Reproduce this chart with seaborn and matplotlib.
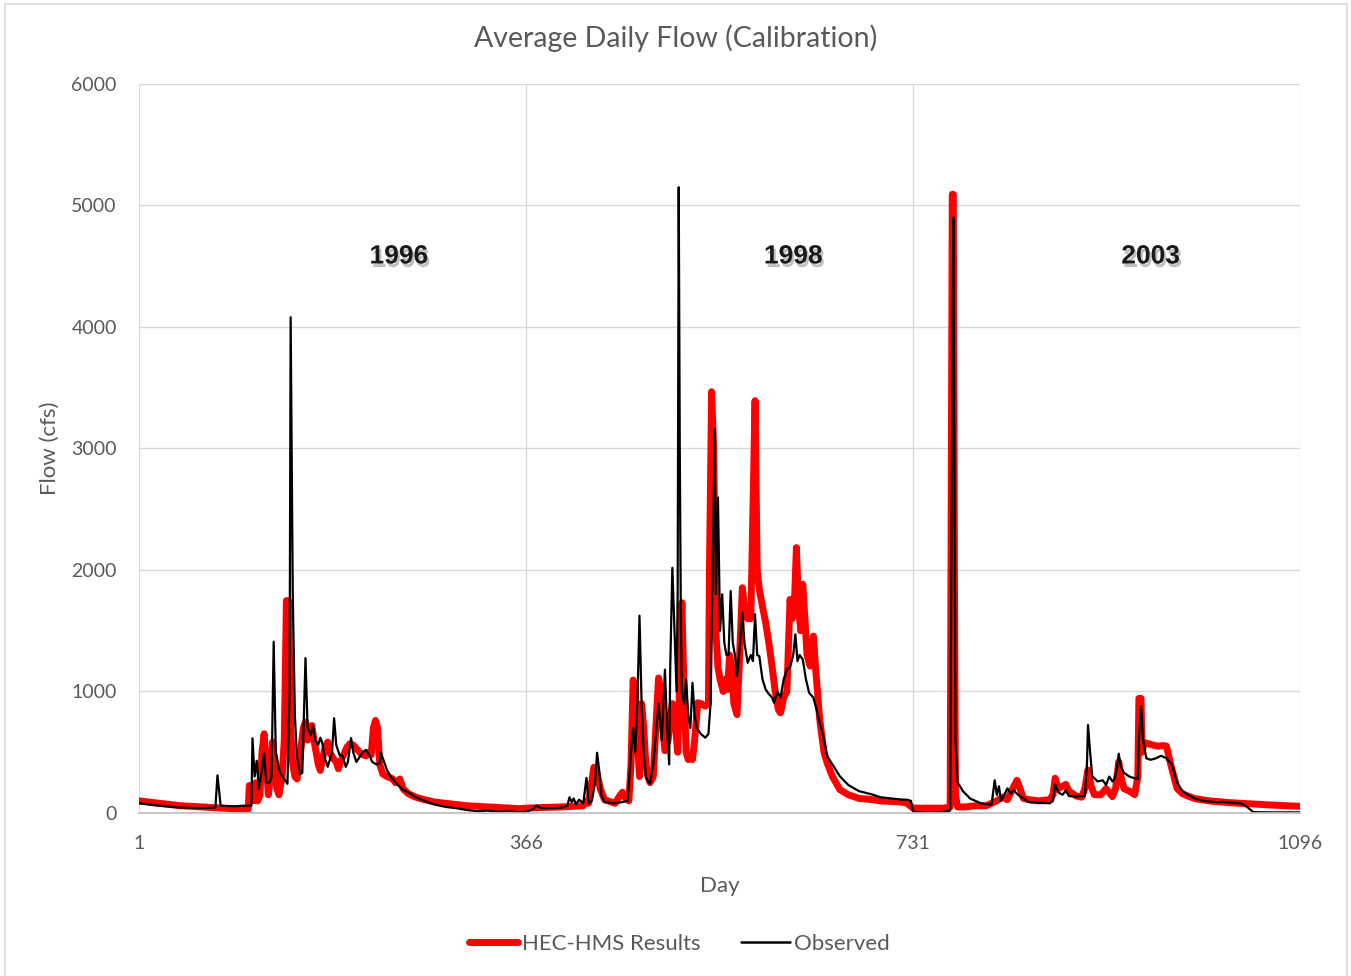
import matplotlib
matplotlib.use("Agg")
import matplotlib.pyplot as plt
import matplotlib.patheffects as pe
from matplotlib.lines import Line2D
from matplotlib.patches import Rectangle
import pandas as pd
import seaborn as sns

# observed flow, breakpoints (day, cfs)
obs_day = [1, 20, 40, 60, 73, 75, 78, 90, 100, 107, 108, 110, 112, 114, 117, 119, 121, 124, 126, 128,
           130, 134, 138, 141, 143, 144, 146, 148, 150, 153, 155, 158, 160, 163, 165, 167, 170, 172, 174, 176,
           179, 181, 183, 185, 187, 190, 193, 196, 198, 201, 203, 206, 209, 212, 215, 218, 221, 225, 228, 229,
           231, 235, 240, 245, 250, 255, 262, 270, 280, 290, 300, 310, 320, 330, 340, 350, 360, 366, 372, 376,
           380, 390, 400, 405, 407, 409, 411, 413, 416, 420, 423, 425, 428, 431, 433, 435, 437, 440, 450, 457,
           462, 465, 467, 469, 471, 473, 475, 477, 479, 481, 483, 486, 489, 491, 494, 497, 499, 501, 502, 504,
           506, 508, 509, 510, 511, 512, 513, 515, 517, 519, 521, 523, 525, 527, 531, 535, 538, 540, 542, 544,
           545, 547, 549, 551, 553, 555, 557, 559, 561, 563, 565, 567, 570, 572, 575, 578, 580, 582, 584, 586,
           589, 592, 595, 598, 600, 603, 606, 609, 612, 615, 618, 620, 622, 624, 627, 630, 633, 637, 640, 643,
           646, 650, 655, 662, 670, 680, 693, 700, 710, 720, 725, 729, 731, 740, 750, 760, 766, 768, 769, 770,
           771, 773, 778, 785, 795, 805, 808, 810, 812, 814, 817, 820, 823, 826, 830, 835, 840, 850, 860, 863,
           865, 868, 872, 875, 878, 885, 893, 895, 896, 898, 900, 905, 910, 913, 916, 919, 921, 923, 925, 927,
           930, 935, 940, 943, 944, 946, 948, 951, 955, 960, 965, 970, 975, 980, 985, 990, 997, 1005, 1015, 1025,
           1033, 1040, 1046, 1052, 1070, 1096]
obs_flow = [80, 60, 45, 40, 45, 310, 60, 55, 60, 60, 615, 300, 430, 200, 350, 490, 250, 250, 300, 1410,
            500, 330, 280, 240, 1000, 4080, 1800, 800, 460, 320, 330, 1275, 700, 640, 720, 600, 560, 620, 570, 460,
            380, 440, 500, 780, 560, 480, 470, 380, 420, 617, 500, 420, 460, 500, 520, 480, 420, 400, 410, 500,
            450, 350, 280, 230, 190, 170, 130, 100, 70, 50, 40, 25, 15, 20, 10, 15, 5, 10, 30, 60,
            40, 40, 45, 60, 130, 90, 120, 70, 110, 80, 290, 80, 100, 240, 496, 350, 150, 90, 80, 90,
            100, 500, 700, 500, 900, 1624, 900, 500, 300, 260, 240, 400, 700, 900, 600, 1180, 700, 400, 1200, 2018,
            1500, 1000, 1800, 5150, 3000, 1600, 1000, 900, 1100, 800, 700, 1071, 800, 700, 650, 620, 650, 900, 2000, 3159,
            1800, 2596, 1500, 1800, 1400, 1300, 1300, 1827, 1400, 1300, 1126, 1300, 1648, 1400, 1236, 1300, 1250, 1635, 1300, 1291,
            1100, 1016, 980, 950, 907, 1000, 950, 1100, 1181, 1200, 1300, 1470, 1250, 1300, 1264, 1100, 989, 950, 850, 742,
            650, 467, 400, 302, 230, 180, 151, 130, 120, 110, 110, 100, 10, 5, 5, 10, 20, 3500, 4899, 3000,
            600, 253, 180, 118, 80, 67, 269, 150, 220, 100, 150, 202, 160, 185, 150, 120, 90, 84, 80, 100,
            235, 170, 150, 185, 140, 135, 140, 400, 724, 500, 303, 260, 269, 230, 300, 260, 280, 350, 488, 380,
            330, 300, 286, 280, 600, 875, 600, 450, 438, 450, 471, 450, 400, 250, 180, 150, 118, 100, 90, 90,
            84, 80, 50, 7, 5, 5]

# HEC-HMS simulated flow, breakpoints (day, cfs)
sim_day = [1, 20, 40, 60, 80, 100, 104, 105, 107, 109, 111, 113, 115, 117, 119, 121, 123, 125, 127, 129,
           131, 133, 136, 138, 140, 142, 144, 146, 148, 150, 152, 154, 156, 158, 160, 162, 164, 166, 168, 170,
           172, 174, 177, 179, 181, 184, 187, 189, 191, 194, 197, 200, 203, 206, 209, 212, 215, 218, 220, 222,
           224, 226, 228, 231, 235, 240, 243, 247, 250, 255, 262, 270, 280, 290, 300, 310, 320, 330, 340, 350,
           360, 366, 380, 400, 410, 420, 423, 425, 430, 433, 436, 440, 450, 455, 457, 460, 463, 465, 467, 469,
           471, 473, 475, 477, 479, 481, 483, 486, 489, 491, 493, 495, 497, 500, 502, 504, 507, 509, 511, 513,
           515, 517, 519, 521, 523, 525, 528, 531, 535, 538, 539, 541, 543, 545, 547, 549, 552, 554, 556, 558,
           560, 562, 565, 567, 570, 572, 575, 578, 580, 582, 584, 586, 589, 592, 595, 598, 601, 604, 606, 609,
           612, 615, 617, 619, 621, 623, 625, 627, 629, 631, 634, 637, 639, 643, 647, 650, 655, 662, 670, 680,
           693, 700, 710, 720, 725, 731, 740, 750, 760, 766, 768, 769, 770, 771, 773, 780, 790, 800, 810, 815,
           820, 825, 829, 832, 835, 840, 850, 860, 863, 865, 868, 872, 875, 878, 885, 890, 893, 896, 899, 902,
           908, 913, 916, 919, 922, 925, 927, 930, 935, 940, 943, 944, 946, 947, 949, 952, 957, 962, 967, 970,
           974, 977, 980, 985, 990, 997, 1010, 1030, 1050, 1070, 1096]
sim_flow = [100, 80, 60, 50, 40, 30, 30, 227, 200, 100, 250, 100, 150, 500, 652, 400, 150, 300, 584, 400,
            200, 150, 300, 600, 1748, 1748, 700, 400, 300, 280, 400, 550, 700, 748, 600, 700, 720, 600, 500, 400,
            350, 450, 550, 584, 500, 450, 420, 364, 420, 480, 540, 570, 560, 530, 500, 480, 470, 500, 480, 700,
            762, 700, 400, 320, 300, 282, 250, 280, 200, 159, 130, 110, 90, 80, 70, 60, 55, 50, 45, 40,
            35, 40, 45, 50, 55, 60, 100, 80, 376, 330, 200, 110, 80, 150, 171, 120, 100, 400, 1094, 1000,
            600, 300, 900, 700, 400, 300, 250, 300, 800, 1111, 1000, 700, 513, 600, 800, 900, 700, 500, 1100, 1731,
            1000, 500, 440, 450, 440, 600, 907, 900, 880, 900, 2000, 3467, 3000, 1500, 1200, 1100, 1000, 1100, 1016, 1300,
            1200, 900, 810, 1200, 1854, 1700, 1600, 1600, 2500, 3393, 2000, 1841, 1700, 1566, 1400, 1209, 1000, 850, 824, 950,
            1000, 1758, 1600, 1700, 2184, 1700, 1500, 1882, 1600, 1300, 1209, 1456, 1200, 769, 500, 412, 300, 192, 150, 120,
            110, 100, 95, 90, 82, 40, 40, 40, 40, 50, 5091, 5091, 2000, 150, 50, 50, 60, 60, 100, 130,
            110, 200, 269, 200, 120, 110, 100, 110, 150, 286, 200, 220, 235, 180, 140, 130, 200, 354, 220, 151,
            150, 200, 170, 135, 200, 421, 300, 200, 180, 151, 300, 943, 943, 500, 580, 572, 560, 550, 555, 550,
            400, 300, 202, 160, 140, 118, 100, 85, 75, 65, 55]

years = ["1996", "1998", "2003"]
year_day = [246, 618, 955]
year_flow = [4580, 4580, 4580]

x_ticks = [1, 366, 731, 1096]
y_ticks = [0, 1000, 2000, 3000, 4000, 5000, 6000]

sns.set_theme(style="whitegrid")
plt.rcParams['font.family'] = ['Lato', 'DejaVu Sans']
grey = '#595959'

sim = pd.DataFrame({'day': sim_day, 'flow': sim_flow})
obs = pd.DataFrame({'day': obs_day, 'flow': obs_flow})

fig = plt.figure(figsize=(13.51, 9.76), dpi=100)
ax = fig.add_axes([0.1029, 0.167, 0.8594, 0.747])

sns.lineplot(data=sim, x='day', y='flow', ax=ax, color='#ff0000', linewidth=5,
             estimator=None, sort=False, solid_joinstyle='round')
sns.lineplot(data=obs, x='day', y='flow', ax=ax, color='black', linewidth=1.6,
             estimator=None, sort=False)

ax.set_xlim(1, 1096)
ax.set_ylim(0, 6000)
ax.set_xticks(x_ticks)
ax.set_yticks(y_ticks)
ax.grid(True, color='#d9d9d9', linewidth=1.0)
for side in ['top', 'right', 'left']:
    ax.spines[side].set_visible(False)
ax.spines['bottom'].set_color('#bfbfbf')
ax.tick_params(axis='both', length=0, labelsize=14, labelcolor=grey)
ax.tick_params(axis='x', pad=16)
ax.tick_params(axis='y', pad=16)

ax.set_xlabel('Day', fontsize=16, color=grey)
ax.set_ylabel('Flow (cfs)', fontsize=16, color=grey)
ax.xaxis.set_label_coords(0.5, -0.086)
ax.yaxis.set_label_coords(-0.068, 0.5)

shadow = [pe.SimplePatchShadow(offset=(1.5, -2.5), shadow_rgbFace='#808080', alpha=0.5), pe.Normal()]
for label, d, f in zip(years, year_day, year_flow):
    ax.text(d, f, label, ha='center', va='center', fontsize=19, fontweight='bold',
            family='Liberation Sans', color='#1a1a1a', path_effects=shadow)

fig.text(0.5, 0.961, 'Average Daily Flow (Calibration)', ha='center', va='center',
         fontsize=20.5, color=grey)

handles = [Line2D([], [], color='#ff0000', linewidth=5, solid_capstyle='round'),
           Line2D([], [], color='black', linewidth=1.8)]
fig.legend(handles, ['HEC-HMS Results', 'Observed'], loc='center', bbox_to_anchor=(0.503, 0.033),
           ncol=2, frameon=False, fontsize=16, handlelength=2.2, handletextpad=0.2,
           columnspacing=1.8, labelcolor=grey)

fig.patches.append(Rectangle((0.004, -0.01), 0.993, 1.006, transform=fig.transFigure,
                             fill=False, edgecolor='#d9d9d9', linewidth=1.2))

fig.savefig('out.png', dpi=100)
